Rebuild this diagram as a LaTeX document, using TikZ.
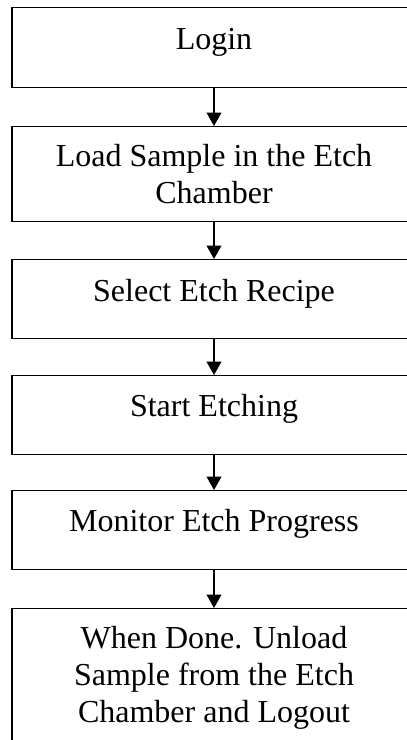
\documentclass[tikz,border=0pt]{standalone}
\usepackage{fontspec}
\setmainfont{Liberation Serif}
\usetikzlibrary{arrows.meta}
\begin{document}
\begin{tikzpicture}[x=0.75pt,y=-0.75pt,
  stepbox/.style={draw, line width=0.9pt, minimum width=303pt, inner sep=0pt, anchor=north},
  steptext/.style={font=\fontsize{24}{28}\selectfont, align=center, anchor=base, inner sep=0pt},
  flow/.style={line width=1.1pt, -{Triangle[length=10pt,width=11pt]}}]
\useasboundingbox (0,0) rectangle (407,740);
\clip (0,0) rectangle (407,740);

% process steps (boxes)
\node[stepbox, minimum height=60pt]    (b1) at (214,7)   {};
\node[stepbox, minimum height=71.25pt] (b2) at (214,126) {};
\node[stepbox, minimum height=59.25pt] (b3) at (214,259) {};
\node[stepbox, minimum height=59.25pt] (b4) at (214,375) {};
\node[stepbox, minimum height=59.25pt] (b5) at (214,490) {};
\node[stepbox, minimum height=112pt]   (b6) at (214,608) {};

% step labels (base = baseline of the last line)
\node[steptext] (t1) at ([yshift=-31.5pt]b1.north) {Login};
\node[steptext] (t2) at ([yshift=-58pt]b2.north) {Load Sample in the Etch\\Chamber};
\node[steptext] (t3) at ([yshift=-31.5pt]b3.north) {Select Etch Recipe};
\node[steptext] (t4) at ([yshift=-31pt]b4.north) {Start Etching};
\node[steptext] (t5) at ([yshift=-31pt]b5.north) {Monitor Etch Progress};
\node[steptext] (t6) at ([yshift=-86pt]b6.north) {When Done. Unload\\Sample from the Etch\\Chamber and Logout};

% flow arrows
\draw[flow] (b1.south) -- (b2.north);
\draw[flow] (b2.south) -- (b3.north);
\draw[flow] (b3.south) -- (b4.north);
\draw[flow] (b4.south) -- (b5.north);
\draw[flow] (b5.south) -- (b6.north);
\end{tikzpicture}
\end{document}
